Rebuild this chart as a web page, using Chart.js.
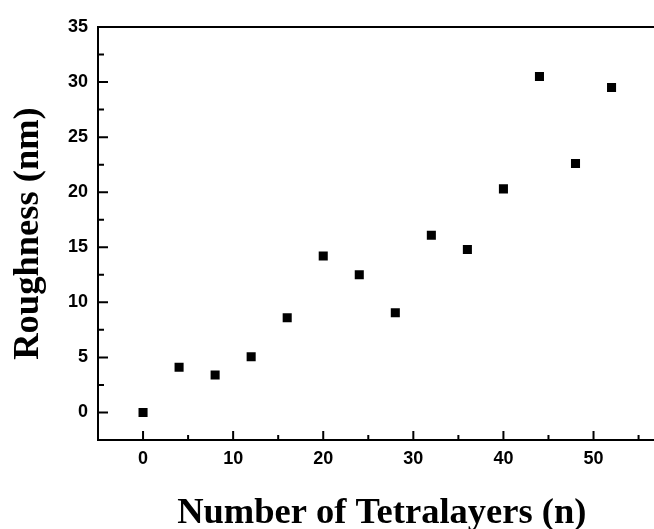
<!DOCTYPE html>
<html>
<head>
<meta charset="utf-8">
<script src="https://cdn.jsdelivr.net/npm/chart.js@4.4.1/dist/chart.umd.min.js"></script>
<style>
  html, body { margin: 0; padding: 0; overflow: hidden; background: #fff; }
</style>
</head>
<body>
<canvas id="roughnessChart" width="672" height="529"></canvas>
<script>
// values
const layers = [0, 4, 8, 12, 16, 20, 24, 28, 32, 36, 40, 44, 48, 52];
const roughness = [0, 4.1, 3.4, 5.05, 8.6, 14.2, 12.5, 9.05, 16.1, 14.8, 20.3, 30.5, 22.6, 29.5];
const xTicks = [0, 10, 20, 30, 40, 50];
const yTicks = [0, 5, 10, 15, 20, 25, 30, 35];

// inward major/minor ticks + top frame line (Origin style)
const frameTicks = {
    id: 'frameTicks',
    afterDraw(chart) {
        const { ctx, chartArea: a, scales: { x, y } } = chart;
        ctx.save();
        ctx.strokeStyle = '#000';
        ctx.lineWidth = 2;
        ctx.beginPath();
        ctx.moveTo(a.left - 1, a.top);
        ctx.lineTo(a.right, a.top);

        xTicks.forEach(v => {
            const px = x.getPixelForValue(v);
            ctx.moveTo(px, a.bottom);
            ctx.lineTo(px, a.bottom - 9);
            const m = v + 5;
            if (m < x.max) {
                const pm = x.getPixelForValue(m);
                ctx.moveTo(pm, a.bottom);
                ctx.lineTo(pm, a.bottom - 5);
            }
        });
        yTicks.forEach(v => {
            const py = y.getPixelForValue(v);
            ctx.moveTo(a.left, py);
            ctx.lineTo(a.left + 10, py);
            const m = v + 2.5;
            if (m < y.max) {
                const pm = y.getPixelForValue(m);
                ctx.moveTo(a.left, pm);
                ctx.lineTo(a.left + 6, pm);
            }
        });
        ctx.stroke();
        ctx.restore();
    }
};

const tickFont = { family: 'Liberation Sans', weight: 'bold', size: 18 };
const titleFont = { family: 'Liberation Serif', weight: 'bold', size: 36.5, lineHeight: 0.85 };

const ctx = document.getElementById('roughnessChart').getContext('2d');

new Chart(ctx, {
    type: 'scatter',
    data: {
        datasets: [{
            label: 'Roughness',
            data: layers.map((n, i) => ({ x: n, y: roughness[i] })),
            pointStyle: 'rect',
            pointRadius: 6.4,
            pointHoverRadius: 6.4,
            backgroundColor: '#000',
            borderColor: '#000',
            borderWidth: 0
        }]
    },
    options: {
        responsive: false,
        animation: false,
        devicePixelRatio: 1,
        layout: { padding: { top: 27, right: 2, bottom: 0, left: 0 } },
        plugins: {
            legend: { display: false },
            tooltip: { enabled: false }
        },
        scales: {
            x: {
                type: 'linear',
                min: -5,
                max: 58,
                afterBuildTicks: scale => { scale.ticks = xTicks.map(v => ({ value: v })); },
                afterFit: scale => { scale.height = 89; },
                grid: { display: false, drawTicks: false },
                border: { display: true, color: '#000', width: 2 },
                ticks: { padding: 8, color: '#000', font: tickFont },
                title: {
                    display: true,
                    text: 'Number of Tetralayers (n)',
                    color: '#000',
                    padding: { top: 0, bottom: 0 },
                    font: titleFont
                }
            },
            y: {
                type: 'linear',
                min: -2.5,
                max: 35,
                afterBuildTicks: scale => { scale.ticks = yTicks.map(v => ({ value: v })); },
                afterFit: scale => { scale.width = 98; },
                grid: { display: false, drawTicks: false },
                border: { display: true, color: '#000', width: 2 },
                ticks: { padding: 10, color: '#000', font: tickFont },
                title: {
                    display: true,
                    text: 'Roughness (nm)',
                    color: '#000',
                    padding: { top: 13.5, bottom: 0 },
                    font: titleFont
                }
            }
        }
    },
    plugins: [frameTicks]
});
</script>
</body>
</html>
